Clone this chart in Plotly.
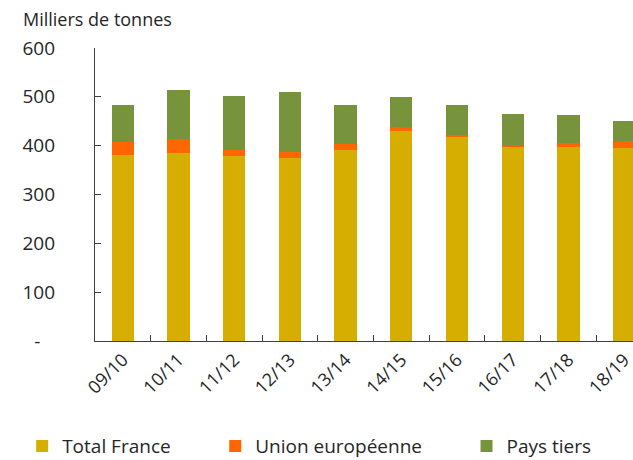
import plotly.graph_objects as go

# Campagnes (saisons)
campagnes = ["09/10", "10/11", "11/12", "12/13", "13/14",
             "14/15", "15/16", "16/17", "17/18", "18/19"]

# Milliers de tonnes, par origine
total_france = [380, 385, 378, 374, 392, 430, 418, 398, 398, 396]
union_europeenne = [28, 28, 14, 14, 12, 8, 4, 1, 8, 13]
pays_tiers = [76, 100, 110, 121, 80, 61, 62, 66, 57, 42]

y_ticks = [0, 100, 200, 300, 400, 500, 600]
y_ticktext = ["-\u00a0\u00a0\u00a0", "100", "200", "300", "400", "500", "600"]

FONT = "Open Sans, sans-serif"
TXT = "#262626"

series = [
    ("Total France", total_france, "#D6AE01", "legend"),
    ("Union européenne", union_europeenne, "#FF6600", "legend2"),
    ("Pays tiers", pays_tiers, "#77933C", "legend3"),
]

fig = go.Figure()
for name, vals, color, lg in series:
    fig.add_trace(go.Bar(
        x=campagnes, y=vals, name=name,
        marker=dict(color=color, line=dict(width=0)),
        legend=lg, showlegend=True,
    ))

legend_common = dict(
    orientation="h", yanchor="middle", xanchor="left",
    font=dict(family=FONT, size=19, color=TXT),
    bgcolor="rgba(0,0,0,0)", itemwidth=30,
    xref="container", yref="container",
)

fig.update_layout(
    width=633, height=460,
    margin=dict(l=95, r=0, t=48, b=119),
    paper_bgcolor="white", plot_bgcolor="white",
    barmode="stack", bargap=0.6, showlegend=True,
    font=dict(family=FONT, color=TXT),
    legend=dict(x=0.035, y=0.03, **legend_common),
    legend2=dict(x=0.340, y=0.03, **legend_common),
    legend3=dict(x=0.737, y=0.03, **legend_common),
    xaxis=dict(
        range=[-0.5, 9.16],
        showline=True, linecolor="#404040", linewidth=1.3,
        ticks="inside", tickson="boundaries", ticklen=6,
        tickcolor="#404040", tickwidth=1.3,
        tickangle=-45, tickfont=dict(family=FONT, size=18, color=TXT),
        showgrid=False, zeroline=False,
    ),
    yaxis=dict(
        range=[0, 600], tickvals=y_ticks, ticktext=y_ticktext,
        showline=True, linecolor="#404040", linewidth=1.3,
        ticks="inside", ticklen=6, tickcolor="#404040", tickwidth=1.3,
        tickfont=dict(family=FONT, size=19, color=TXT),
        ticklabelstandoff=35,
        showgrid=False, zeroline=False,
    ),
    annotations=[dict(
        text="Milliers de tonnes", xref="paper", yref="paper",
        x=-0.138, y=1.0, xanchor="left", yanchor="bottom", yshift=15,
        showarrow=False, font=dict(family=FONT, size=18, color=TXT),
    )],
)

fig.write_html("out.html")
